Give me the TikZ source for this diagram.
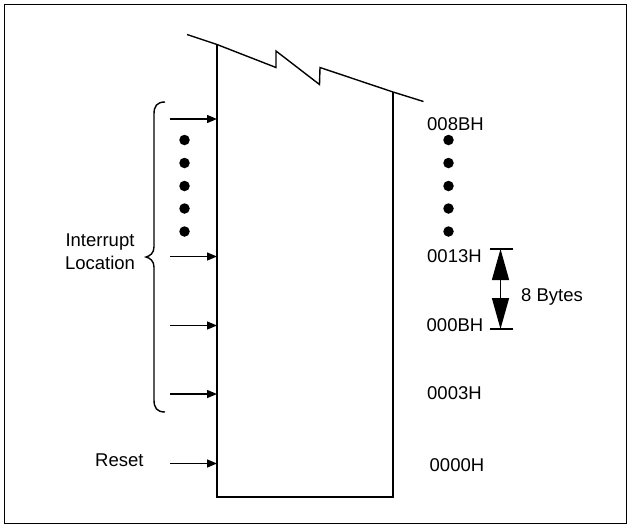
\documentclass[tikz,border=0pt]{standalone}
\usepackage{fontspec}
\setmainfont{Liberation Sans}
\usetikzlibrary{arrows.meta}
\begin{document}
\begin{tikzpicture}[x=1pt,y=-1pt,
  line join=miter,
  lbl/.style={inner sep=0pt,font=\fontsize{18.5}{23}\selectfont},
  mem/.style={line width=1.4pt},
  inarrow/.style={line width=1.4pt,-{Triangle[length=10pt,width=8pt]}},
  dimarrow/.style={line width=1.4pt,{Triangle[length=31pt,width=17pt]}-{Triangle[length=31pt,width=17pt]}},
  dot/.style={circle,fill=black,inner sep=0pt,minimum size=10.5pt}]
\useasboundingbox (0,0) rectangle (631,528);
\draw[line width=1.1pt] (4.5,4.5) rectangle (626.5,523.5);
% memory block
\coordinate (zs) at (187,34.5);
\coordinate (tl) at (217,44.5);
\coordinate (z1) at (276,67.5);
\coordinate (z2) at (276,51);
\coordinate (z3) at (319.5,84.5);
\coordinate (z4) at (320,67.5);
\coordinate (tr) at (393,92);
\coordinate (ze) at (423.5,101.5);
\coordinate (trt) at (393,108);
\coordinate (bl) at (217,497);
\coordinate (br) at (393,497);
\draw[mem] (zs) -- (tl) -- (z1) -- (z2) -- (z3) -- (z4) -- (tr) -- (ze);
\draw[mem] (tl) -- (bl) -- (br) -- (tr);
\draw[line width=2.8pt] (tr) -- (trt);
% input arrows
\foreach \n/\y in {a1/119,a2/256.5,a3/325.5,a4/394,ar/463.5}{
  \coordinate (\n s) at (170,\y);
  \coordinate (\n e) at (217,\y);
  \draw[inarrow] (\n s) -- (\n e);
}
% dots
\foreach \i/\y in {1/140,2/163,3/186,4/208.5,5/231.5}{
  \node[dot] (ld\i) at (184.5,\y) {};
  \node[dot] (rd\i) at (448.5,\y) {};
}
% brace
\draw[line width=1.4pt] (165,102) .. controls (157,102) and (154,106) .. (154,114)
  -- (154,247) .. controls (154,253) and (150,256) .. (146,257)
  .. controls (150,258) and (154,261) .. (154,267)
  -- (154,400) .. controls (154,408) and (157,412) .. (165,412);
% labels
\node[lbl,align=center] (intl) at (100,252) {Interrupt\\Location};
\node[lbl,anchor=west] (reset) at (95,460) {Reset};
\node[lbl,anchor=west] (l8b) at (427,124) {008BH};
\node[lbl,anchor=west] (l13) at (427,256) {0013H};
\node[lbl,anchor=west] (l0b) at (426.5,325) {000BH};
\node[lbl,anchor=west] (l03) at (427,393) {0003H};
\node[lbl,anchor=west] (l00) at (429.5,465.5) {0000H};
\node[lbl,anchor=west] (bytes) at (521,297) {8 Bytes};
% dimension
\coordinate (dtl) at (490,249);
\coordinate (dtr) at (513,249);
\coordinate (dbl) at (490,329);
\coordinate (dbr) at (513,329);
\coordinate (dt) at (500.5,249);
\coordinate (db) at (500.5,329);
\draw[line width=1.4pt] (dtl) -- (dtr);
\draw[line width=1.4pt] (dbl) -- (dbr);
\draw[dimarrow] (dt) -- (db);
\end{tikzpicture}
\end{document}
